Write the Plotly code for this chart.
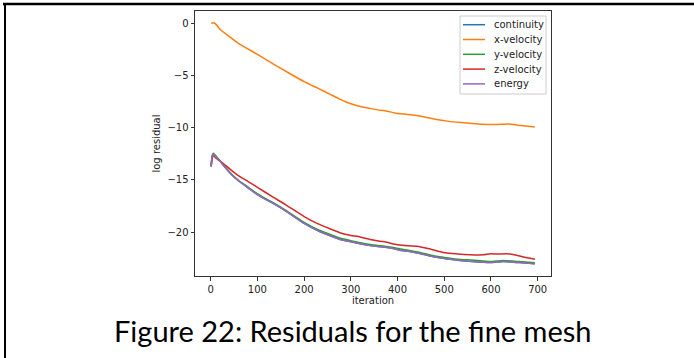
import plotly.graph_objects as go

# ---------------- data ----------------
iter_xvel = [1, 8, 12, 20, 40, 63, 100, 130, 170, 200, 230, 255, 275, 290, 300, 320, 340,
             362, 375, 394, 415, 437, 460, 480, 510, 537, 560, 580, 609, 637, 650, 659, 680, 694]
res_xvel = [0.0, 0.0, -0.15, -0.6, -1.3, -2.05, -3.0, -3.8, -4.85, -5.6, -6.25, -6.8, -7.25, -7.55,
            -7.72, -7.98, -8.15, -8.33, -8.4, -8.59, -8.7, -8.81, -9.0, -9.2, -9.4, -9.51, -9.6,
            -9.67, -9.7, -9.64, -9.7, -9.77, -9.87, -9.93]

iter_zvel = [1, 3, 6, 12, 20, 30, 45, 60, 80, 100, 130, 160, 200, 230, 260, 280, 300, 320, 345,
             362, 375, 391, 410, 441, 470, 498, 530, 555, 584, 598, 615, 634, 655, 675, 694]
res_zvel = [-13.7, -13.0, -12.67, -12.95, -13.2, -13.55, -14.1, -14.6, -15.15, -15.7, -16.55,
            -17.35, -18.5, -19.2, -19.75, -20.1, -20.3, -20.45, -20.72, -20.85, -20.92, -21.12,
            -21.25, -21.33, -21.6, -21.93, -22.08, -22.15, -22.16, -22.06, -22.08, -22.05,
            -22.2, -22.42, -22.57]

iter_low = [1, 3, 6, 10, 20, 27, 45, 60, 80, 100, 130, 160, 200, 230, 260, 280, 300, 320, 345,
            370, 391, 405, 420, 450, 477, 500, 534, 560, 598, 626, 660, 694]
res_energy = [-13.7, -12.8, -12.55, -12.75, -13.2, -13.6, -14.5, -15.1, -15.75, -16.4, -17.15,
              -17.95, -19.15, -19.85, -20.4, -20.72, -20.9, -21.1, -21.3, -21.4, -21.55, -21.72,
              -21.8, -22.05, -22.35, -22.5, -22.7, -22.8, -22.9, -22.8, -22.9, -23.0]
res_continuity = list(res_energy)
res_yvel = [-13.7, -12.7, -12.45, -12.65, -13.15, -13.55, -14.45, -15.05, -15.68, -16.33, -17.08,
            -17.88, -19.05, -19.75, -20.28, -20.6, -20.8, -21.0, -21.2, -21.3, -21.45, -21.58,
            -21.7, -21.95, -22.25, -22.4, -22.6, -22.65, -22.8, -22.7, -22.8, -22.92]

series_names = ["continuity", "x-velocity", "y-velocity", "z-velocity", "energy"]
series_colors = ["#1f77b4", "#ff7f0e", "#2ca02c", "#d62728", "#9467bd"]

x_ticks = [0, 100, 200, 300, 400, 500, 600, 700]
y_ticks = [0, -5, -10, -15, -20]
caption = "Figure 22: Residuals for the fine mesh"

# ---------------- figure ----------------
W, H = 694, 358
L, R, T, B = 195, 551, 11, 276  # plot area in pixels


def px_x(p):
    return (p - L) / (R - L)


def px_y(p):
    return 1 - (p - T) / (B - T)


series = [
    (iter_low, res_continuity),
    (iter_xvel, res_xvel),
    (iter_low, res_yvel),
    (iter_zvel, res_zvel),
    (iter_low, res_energy),
]

fig = go.Figure()
for (xs, ys), name, color in zip(series, series_names, series_colors):
    fig.add_trace(go.Scatter(x=xs, y=ys, mode="lines", name=name, showlegend=False,
                             line=dict(color=color, width=1.5, shape="spline", smoothing=0.4)))

text_color = "#222222"
axis_common = dict(showgrid=False, zeroline=False, showline=True, mirror=True, automargin=False,
                   linecolor="#333333", linewidth=1, ticks="outside", ticklen=3.5,
                   tickwidth=1, tickcolor="#333333",
                   tickfont=dict(family="DejaVu Sans", size=10, color=text_color))

fig.update_xaxes(range=[-33.6, 728.5], tickvals=x_ticks,
                 title=dict(text="iteration", font=dict(family="DejaVu Sans", size=10, color=text_color),
                            standoff=2),
                 **axis_common)
fig.update_yaxes(range=[-24.18, 1.15], tickvals=y_ticks,
                 title=dict(text="log residual", font=dict(family="DejaVu Sans", size=10, color=text_color),
                            standoff=4),
                 **axis_common)

# legend drawn as a matplotlib-style box (native plotly rows are too tall)
leg_left, leg_right, leg_top, leg_bottom = 460, 546, 16, 94
row_y = [24.7, 39.5, 54.3, 69.1, 83.9]
shapes = [
    dict(type="rect", xref="paper", yref="paper", x0=px_x(leg_left), x1=px_x(leg_right),
         y0=px_y(leg_bottom), y1=px_y(leg_top), fillcolor="rgba(255,255,255,0.8)",
         line=dict(color="#cccccc", width=1), layer="above"),
]
annotations = []
for name, color, ry in zip(series_names, series_colors, row_y):
    shapes.append(dict(type="line", xref="paper", yref="paper", x0=px_x(463), x1=px_x(485),
                       y0=px_y(ry), y1=px_y(ry), line=dict(color=color, width=1.5), layer="above"))
    annotations.append(dict(text=name, xref="paper", yref="paper", x=px_x(491.5), y=px_y(ry),
                            xanchor="left", yanchor="middle", showarrow=False,
                            font=dict(family="DejaVu Sans", size=10, color=text_color)))

# cropped page frame
shapes += [
    dict(type="line", xref="paper", yref="paper", x0=px_x(3), x1=px_x(694), y0=px_y(4), y1=px_y(4),
         line=dict(color="black", width=2.5)),
    dict(type="line", xref="paper", yref="paper", x0=px_x(5), x1=px_x(5), y0=px_y(3), y1=px_y(358),
         line=dict(color="black", width=2)),
]
annotations.append(dict(text=caption, xref="paper", yref="paper", x=px_x(353), y=px_y(330),
                        xanchor="center", yanchor="middle", showarrow=False,
                        font=dict(family="Lato", size=29, color="black")))

fig.update_layout(
    width=W, height=H, autosize=False,
    margin=dict(l=L, r=W - R, t=T, b=H - B, pad=0),
    paper_bgcolor="white", plot_bgcolor="white",
    showlegend=False,
    font=dict(family="DejaVu Sans"),
    shapes=shapes,
    annotations=annotations,
)

fig.write_html("out.html",
               config={"displayModeBar": False},
               post_script="document.body.style.margin='0px';document.body.style.overflow='hidden';")
